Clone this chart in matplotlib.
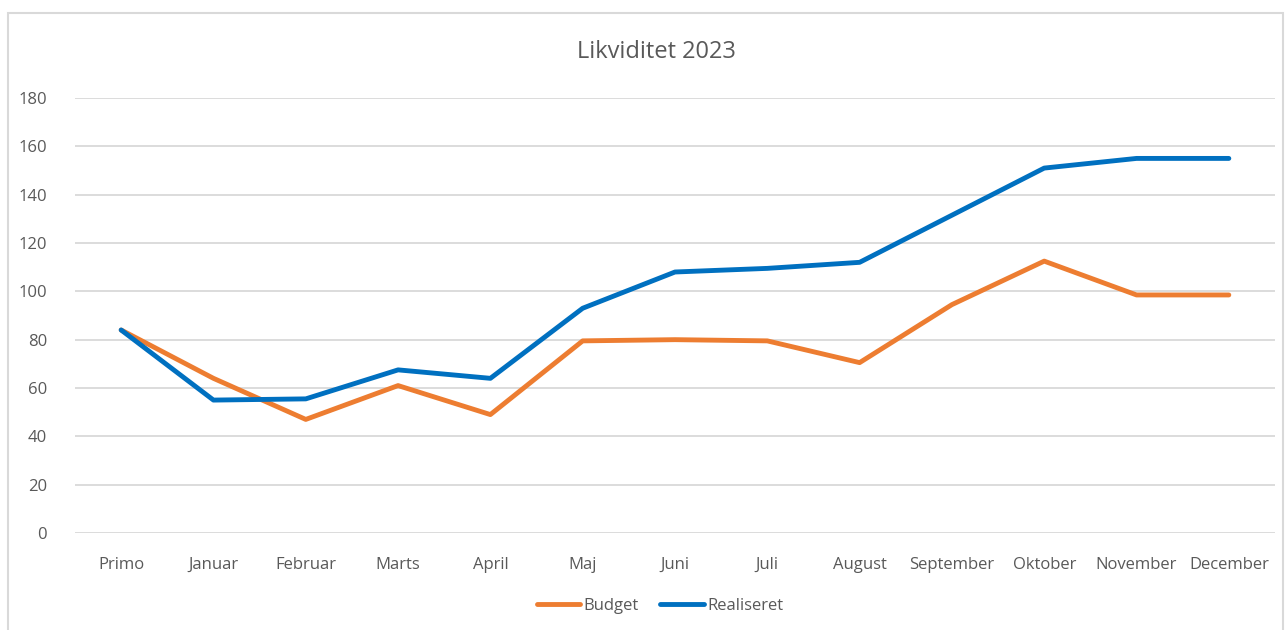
import matplotlib.pyplot as plt
from matplotlib.patches import Rectangle

plt.rcParams['font.family'] = ['Open Sans', 'DejaVu Sans']

# data
months = ['Primo', 'Januar', 'Februar', 'Marts', 'April', 'Maj', 'Juni', 'Juli',
          'August', 'September', 'Oktober', 'November', 'December']
budget = [84, 64, 47, 61, 49, 79.5, 80, 79.5, 70.5, 94.5, 112.5, 98.5, 98.5]
realiseret = [84, 55, 55.5, 67.5, 64, 93, 108, 109.5, 112, 131.5, 151, 155, 155]
yticks = [0, 20, 40, 60, 80, 100, 120, 140, 160, 180]

fig = plt.figure(figsize=(12.88, 6.3), dpi=100)
ax = fig.add_axes([75 / 1288, 1 - 533 / 630, 1200 / 1288, 435 / 630])

# frame around the whole chart
fig.patches.append(Rectangle((8 / 1288, -0.01), 1275 / 1288, 1 - 13 / 630 + 0.01,
                             transform=fig.transFigure, fill=False,
                             edgecolor='#D9D9D9', linewidth=1.5))

x = range(len(months))
ax.plot(x, budget, color='#ED7D31', linewidth=3.5, label='Budget',
        solid_capstyle='round', solid_joinstyle='round')
ax.plot(x, realiseret, color='#0070C0', linewidth=3.5, label='Realiseret',
        solid_capstyle='round', solid_joinstyle='round')

ax.set_xlim(-0.5, len(months) - 0.5)
ax.set_ylim(0, 180)
ax.set_yticks(yticks)
ax.set_xticks(list(x))
ax.set_xticklabels(months)
ax.grid(axis='y', color='#D9D9D9', linewidth=1.3)
ax.set_axisbelow(True)
for s in ax.spines.values():
    s.set_visible(False)
ax.tick_params(length=0, labelsize=12, colors='#595959', pad=17)
ax.tick_params(axis='y', pad=20)

fig.text(0.5 + 12 / 1288, 1 - 52 / 630, 'Likviditet 2023', ha='center', va='center',
         fontsize=17, color='#595959')

fig.legend(loc='center', bbox_to_anchor=(660 / 1288, 1 - 606 / 630), ncol=2,
           frameon=False, fontsize=12, labelcolor='#595959', handlelength=2.6,
           handletextpad=0.2, columnspacing=1.3)

fig.savefig('out.png', dpi=100)
